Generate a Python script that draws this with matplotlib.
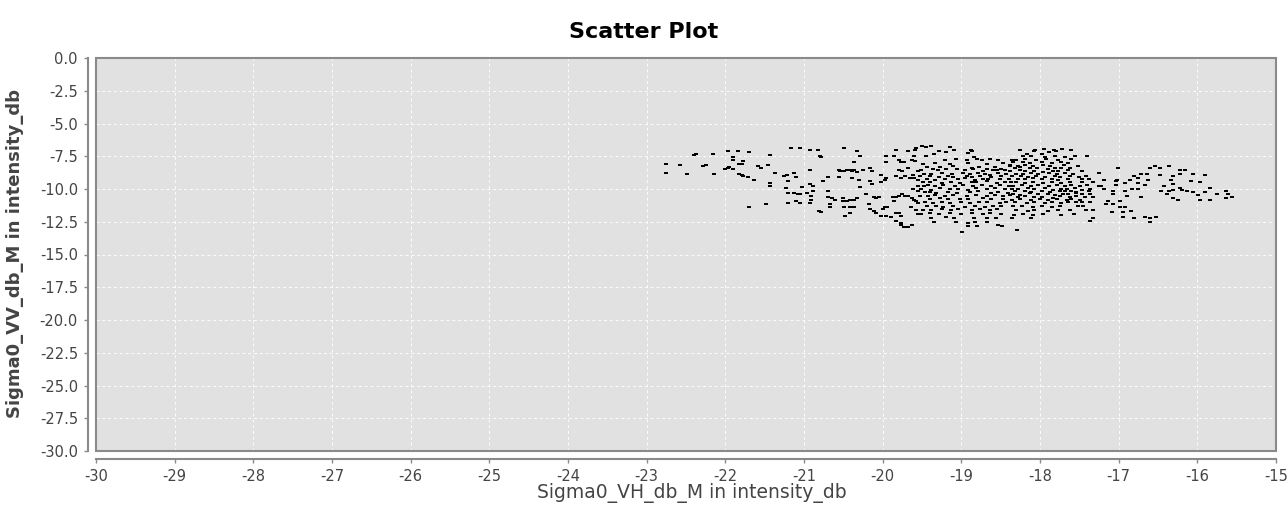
import numpy as np
import matplotlib
matplotlib.use('Agg')
import matplotlib.pyplot as plt
from matplotlib.patches import Rectangle

# Sigma0 VH (x) / VV (y) samples in dB.
# Sparse parts are (vh, vv) pairs; the dense core is stored row by row.

west_pts = [(-22.75, -8.09), (-22.75, -8.75), (-22.57, -8.19), (-22.49, -8.85),
            (-22.40, -7.40), (-22.37, -7.33), (-22.28, -8.28), (-22.25, -8.20),
            (-22.16, -7.33), (-22.14, -8.85), (-22.00, -8.45), (-21.97, -8.40),
            (-21.95, -8.33), (-21.97, -7.07), (-21.84, -7.07), (-21.90, -7.55),
            (-21.90, -7.80), (-21.90, -8.45), (-21.83, -8.10), (-21.83, -8.85)]

band21_pts = [(-21.70, -7.20), (-21.78, -7.90), (-21.79, -8.10), (-21.79, -8.90),
              (-21.77, -8.97), (-21.71, -9.08), (-21.64, -9.29), (-21.58, -8.25),
              (-21.55, -8.40), (-21.46, -8.19), (-21.43, -7.43), (-21.43, -9.52),
              (-21.43, -9.75), (-21.37, -8.75), (-21.25, -9.03), (-21.22, -8.95),
              (-21.20, -9.41), (-21.23, -9.95), (-21.17, -6.90), (-21.13, -8.75),
              (-21.10, -9.06), (-21.05, -6.90), (-21.20, -10.28), (-21.13, -10.28),
              (-21.07, -10.40), (-21.05, -10.40), (-21.10, -10.92), (-21.20, -11.07),
              (-21.05, -11.07), (-21.03, -9.85), (-20.93, -7.00), (-20.82, -7.00),
              (-20.80, -7.45), (-20.78, -7.55), (-20.93, -8.52), (-20.93, -9.62),
              (-20.88, -9.75), (-20.96, -10.28), (-20.91, -10.51), (-20.88, -10.18),
              (-20.91, -10.84), (-20.93, -11.07), (-20.76, -9.41), (-20.70, -9.08),
              (-20.70, -10.18), (-20.70, -10.61), (-20.67, -11.15), (-20.67, -11.37),
              (-20.81, -11.65), (-20.78, -11.72), (-21.70, -11.37), (-21.48, -11.17)]

band20_pts = [(-20.49, -6.86), (-20.33, -7.12), (-20.29, -7.50), (-20.36, -7.96),
              (-20.56, -8.52), (-20.54, -8.62), (-20.49, -8.62), (-20.45, -8.52),
              (-20.42, -8.52), (-20.39, -8.62), (-20.36, -8.52), (-20.33, -8.72),
              (-20.25, -8.52), (-20.16, -8.42), (-20.14, -8.62), (-20.56, -9.08),
              (-20.39, -9.18), (-20.30, -9.28), (-20.16, -9.41), (-20.14, -9.61),
              (-20.29, -9.84), (-20.02, -9.48), (-19.96, -9.18), (-19.97, -9.28),
              (-20.02, -8.95), (-19.96, -7.50), (-19.96, -7.96), (-19.85, -7.50),
              (-19.83, -6.99), (-19.68, -7.12), (-19.59, -6.99), (-19.57, -6.86),
              (-19.79, -7.75), (-19.77, -7.96), (-19.73, -7.96), (-19.63, -7.75),
              (-19.60, -7.50), (-19.59, -7.85), (-19.79, -8.52), (-19.75, -8.62),
              (-19.68, -8.42), (-19.83, -9.03), (-19.77, -9.18), (-19.72, -9.03),
              (-19.65, -9.18), (-19.62, -8.95), (-19.60, -9.18), (-19.55, -8.62),
              (-19.55, -9.28), (-19.55, -9.74), (-19.55, -10.17), (-19.61, -10.00),
              (-20.64, -10.71), (-20.60, -10.81), (-20.51, -10.71), (-20.51, -10.94),
              (-20.45, -10.94), (-20.42, -10.81), (-20.36, -10.81), (-20.33, -10.71),
              (-20.49, -11.37), (-20.42, -11.37), (-20.36, -11.37), (-20.48, -12.03),
              (-20.42, -11.83), (-20.21, -10.38), (-20.11, -10.60), (-20.08, -10.71),
              (-20.05, -10.60), (-20.18, -11.16), (-20.16, -11.50), (-20.11, -11.70),
              (-20.08, -11.83), (-20.00, -11.50), (-19.97, -11.40), (-19.94, -11.40),
              (-20.02, -12.03), (-19.96, -12.03), (-19.90, -12.16), (-19.87, -10.60),
              (-19.83, -10.60), (-19.79, -10.50), (-19.75, -10.38), (-19.72, -10.50),
              (-19.68, -10.50), (-19.85, -10.94), (-19.83, -11.83), (-19.79, -11.83),
              (-19.77, -12.03), (-19.83, -12.46), (-19.77, -12.59), (-19.77, -12.72),
              (-19.73, -12.89), (-19.68, -12.89), (-19.63, -12.72), (-19.63, -10.71),
              (-19.60, -10.81), (-19.57, -10.94), (-19.55, -11.04), (-19.64, -11.37),
              (-19.58, -11.57), (-19.55, -11.88)]

# dense core between -19.5 and -18.4 dB (VH), row by row
core_a_vh = [
    [-19.50, -19.45, -19.39, -19.14],
    [-19.09, -18.88],
    [-19.28, -19.20, -18.86],
    [-19.35, -18.92],
    [-19.45, -18.84],
    [-19.21, -19.07, -18.93, -18.80, -18.74, -18.64, -18.53],
    [-19.49, -19.33, -19.15, -18.91, -18.68, -18.47],
    [-19.44, -19.27, -19.10, -18.87, -18.77, -18.57, -18.38],
    [-19.51, -19.36, -19.30, -19.19, -19.06, -18.95, -18.85, -18.72, -18.68, -18.60, -18.55, -18.49, -18.44],
    [-19.48, -19.38, -19.25, -19.12, -18.98, -18.89, -18.79, -18.70, -18.64, -18.53, -18.43],
    [-19.52, -19.40, -19.29, -19.17, -19.10, -18.93, -18.86, -18.76, -18.62, -18.49],
    [-19.44, -19.34, -19.21, -19.04, -18.95, -18.83, -18.72, -18.66, -18.51, -18.40],
    [-19.49, -19.40, -19.25, -19.13, -19.02, -18.87, -18.81, -18.68, -18.55, -18.45],
    [-19.48, -19.42, -19.34, -19.23, -19.08, -18.98, -18.85, -18.74, -18.62, -18.51, -18.40],
    [-19.51, -19.38, -19.27, -19.15, -19.04, -18.91, -18.81, -18.68, -18.57, -18.45],
    [-19.46, -19.40, -19.32, -19.17, -19.06, -18.89, -18.79, -18.62, -18.53, -18.41],
    [-19.53, -19.42, -19.34, -19.21, -19.10, -18.93, -18.81, -18.68, -18.57, -18.47, -18.38],
    [-19.40, -19.27, -19.17, -19.02, -18.91, -18.72, -18.62, -18.47],
    [-19.46, -19.36, -19.25, -19.15, -19.00, -18.89, -18.77, -18.68, -18.51, -18.43],
    [-19.44, -19.32, -19.23, -19.10, -18.95, -18.83, -18.70, -18.60, -18.49],
    [-19.49, -19.38, -19.25, -19.13, -19.04, -18.87, -18.76, -18.64, -18.55],
    [-19.51, -19.40, -19.29, -19.15, -19.00, -18.87, -18.72, -18.64, -18.49],
    [-19.39, -19.20, -19.09, -18.84, -18.67, -18.56],
    [-19.35, -19.07, -18.92, -18.82, -18.67],
    [-18.92, -18.80, -18.54, -18.48],
    [-18.99],
]
core_a_vv = [
    [-6.74, -6.79, -6.72, -6.77],
    [-6.99, -7.03],
    [-7.12, -7.16, -7.10],
    [-7.30, -7.26],
    [-7.50, -7.55],
    [-7.75, -7.70, -7.79, -7.73, -7.80, -7.72, -7.77],
    [-8.06, -8.01, -8.10, -8.04, -8.09, -8.02],
    [-8.31, -8.35, -8.28, -8.36, -8.30, -8.33, -8.27],
    [-8.52, -8.47, -8.58, -8.50, -8.45, -8.56, -8.49, -8.60, -8.46, -8.53, -8.57, -8.48, -8.55],
    [-8.82, -8.86, -8.78, -8.88, -8.80, -8.85, -8.77, -8.84, -8.90, -8.79, -8.83],
    [-9.03, -8.98, -9.07, -9.01, -9.09, -9.00, -9.05, -8.97, -9.06, -9.02],
    [-9.23, -9.28, -9.20, -9.26, -9.19, -9.30, -9.22, -9.27, -9.21, -9.25],
    [-9.48, -9.43, -9.52, -9.46, -9.54, -9.45, -9.50, -9.42, -9.51, -9.47],
    [-9.74, -9.69, -9.78, -9.71, -9.77, -9.70, -9.80, -9.73, -9.76, -9.68, -9.75],
    [-9.99, -10.04, -9.95, -10.02, -9.97, -10.05, -9.94, -10.01, -9.96, -10.03],
    [-10.25, -10.20, -10.29, -10.22, -10.30, -10.24, -10.19, -10.27, -10.21, -10.28],
    [-10.50, -10.55, -10.46, -10.53, -10.48, -10.56, -10.45, -10.52, -10.47, -10.54, -10.49],
    [-10.76, -10.71, -10.80, -10.73, -10.79, -10.70, -10.77, -10.74],
    [-11.01, -11.06, -10.97, -11.04, -10.99, -11.07, -10.98, -11.03, -11.08, -11.00],
    [-11.32, -11.27, -11.36, -11.29, -11.35, -11.30, -11.37, -11.28, -11.33],
    [-11.57, -11.62, -11.53, -11.60, -11.55, -11.63, -11.54, -11.59, -11.56],
    [-11.88, -11.83, -11.92, -11.85, -11.91, -11.84, -11.89, -11.86, -11.93],
    [-12.21, -12.17, -12.25, -12.19, -12.24, -12.18],
    [-12.54, -12.50, -12.57, -12.52, -12.55],
    [-12.79, -12.83, -12.76, -12.81],
    [-13.30],
]

# dense core between -18.4 and -17.2 dB (VH), row by row
core_b_vh = [
    [-18.25, -18.06, -17.95, -17.82, -17.72, -17.61],
    [-18.08, -17.89, -17.80],
    [-18.16, -17.97],
    [-18.21, -18.11, -17.94, -17.81, -17.68, -17.56, -17.40],
    [-18.36, -18.30, -18.19, -18.05, -17.92, -17.77, -17.60],
    [-18.34, -18.21, -18.13, -17.98, -17.85, -17.73, -17.64],
    [-18.38, -18.28, -18.19, -18.09, -17.96, -17.87, -17.70, -17.52],
    [-18.32, -18.26, -18.13, -18.04, -17.90, -17.81, -17.73, -17.62],
    [-18.38, -18.26, -18.19, -18.07, -17.96, -17.83, -17.77, -17.64, -17.46],
    [-18.30, -18.21, -18.11, -18.02, -17.88, -17.79, -17.68, -17.58, -17.25],
    [-18.36, -18.24, -18.15, -18.05, -17.94, -17.81, -17.75, -17.62, -17.51, -17.42],
    [-18.28, -18.19, -18.09, -17.98, -17.85, -17.77, -17.64, -17.47, -17.38],
    [-18.37, -18.30, -18.19, -18.09, -17.96, -17.85, -17.73, -17.62, -17.47, -17.33],
    [-18.34, -18.23, -18.11, -18.02, -17.88, -17.79, -17.68, -17.60, -17.49, -17.40, -17.25],
    [-18.36, -18.28, -18.15, -18.07, -17.94, -17.83, -17.73, -17.66, -17.56, -17.47, -17.36],
    [-18.32, -18.19, -18.11, -17.98, -17.87, -17.75, -17.68, -17.60, -17.54, -17.38],
    [-18.34, -18.26, -18.13, -18.02, -17.90, -17.81, -17.71, -17.64, -17.54, -17.47, -17.36],
    [-18.28, -18.19, -18.07, -17.98, -17.83, -17.75, -17.62, -17.54, -17.43, -17.33],
    [-18.36, -18.26, -18.11, -18.00, -17.90, -17.79, -17.66, -17.60, -17.49],
    [-18.32, -18.17, -18.07, -17.94, -17.85, -17.73, -17.64, -17.54, -17.47, -17.37],
    [-18.34, -18.23, -18.09, -17.98, -17.85, -17.75, -17.52, -17.45],
    [-18.30, -18.15, -18.07, -17.90, -17.77, -17.62, -17.41, -17.33],
    [-18.33, -18.21, -18.09, -17.96, -17.73, -17.57],
    [-18.35, -18.12, -17.33],
    [-17.36],
    [-18.29],
]
core_b_vv = [
    [-6.99, -7.03, -6.96, -7.02, -6.97, -7.04],
    [-7.12, -7.16, -7.09],
    [-7.30, -7.34],
    [-7.50, -7.45, -7.54, -7.47, -7.53, -7.48, -7.51],
    [-7.75, -7.80, -7.71, -7.78, -7.73, -7.79, -7.72],
    [-7.96, -7.92, -8.00, -7.94, -8.01, -7.93, -7.98],
    [-8.19, -8.24, -8.15, -8.22, -8.17, -8.25, -8.16, -8.21],
    [-8.39, -8.35, -8.43, -8.37, -8.44, -8.36, -8.41, -8.38],
    [-8.62, -8.58, -8.66, -8.60, -8.67, -8.59, -8.64, -8.57, -8.63],
    [-8.82, -8.86, -8.79, -8.87, -8.80, -8.85, -8.78, -8.84, -8.81],
    [-9.03, -8.99, -9.07, -9.00, -9.06, -8.98, -9.05, -9.01, -9.08, -9.02],
    [-9.23, -9.27, -9.19, -9.26, -9.20, -9.28, -9.21, -9.25, -9.22],
    [-9.48, -9.44, -9.52, -9.45, -9.53, -9.46, -9.51, -9.43, -9.50, -9.47],
    [-9.74, -9.70, -9.78, -9.72, -9.79, -9.71, -9.76, -9.69, -9.77, -9.73, -9.75],
    [-9.99, -10.03, -9.95, -10.02, -9.96, -10.04, -9.97, -10.01, -9.94, -10.05, -9.98],
    [-10.17, -10.13, -10.21, -10.15, -10.22, -10.14, -10.19, -10.12, -10.20, -10.16],
    [-10.38, -10.42, -10.34, -10.41, -10.35, -10.43, -10.36, -10.40, -10.33, -10.39, -10.37],
    [-10.60, -10.56, -10.64, -10.58, -10.65, -10.57, -10.62, -10.55, -10.63, -10.59],
    [-10.81, -10.77, -10.85, -10.79, -10.86, -10.78, -10.83, -10.76, -10.84],
    [-11.01, -11.05, -10.97, -11.04, -10.98, -11.06, -10.99, -11.03, -10.96, -11.02],
    [-11.32, -11.28, -11.36, -11.29, -11.35, -11.27, -11.33, -11.30],
    [-11.62, -11.66, -11.58, -11.65, -11.59, -11.64, -11.60, -11.63],
    [-11.95, -11.91, -11.99, -11.93, -11.98, -11.92],
    [-12.21, -12.25, -12.18],
    [-12.46],
    [-13.15],
]

east_pts = [(-17.01, -8.39), (-17.19, -9.28), (-17.19, -10.00), (-17.22, -9.74),
            (-17.04, -9.41), (-17.02, -9.33), (-17.04, -9.72), (-17.07, -10.12),
            (-17.07, -10.38), (-17.13, -10.94), (-17.16, -11.14), (-17.07, -11.14),
            (-16.98, -10.94), (-16.98, -11.37), (-16.92, -11.37), (-17.09, -11.77),
            (-16.94, -11.77), (-16.94, -12.13), (-16.92, -9.54), (-16.92, -10.12),
            (-16.89, -10.50), (-16.86, -9.28), (-16.81, -8.98), (-16.75, -9.18),
            (-16.72, -8.82), (-16.64, -8.82), (-16.83, -9.97), (-16.76, -9.54),
            (-16.75, -9.97), (-16.66, -9.71), (-16.63, -9.28), (-16.72, -10.60),
            (-16.84, -11.70), (-16.81, -12.21), (-16.66, -12.13), (-16.60, -12.21),
            (-16.60, -12.54), (-16.52, -12.13), (-16.60, -8.39), (-16.54, -8.26),
            (-16.48, -8.39), (-16.48, -8.92), (-16.36, -8.26), (-16.31, -8.98),
            (-16.31, -9.59), (-16.31, -10.04), (-16.34, -9.28), (-16.42, -9.79),
            (-16.46, -10.12), (-16.39, -10.38), (-16.36, -10.12), (-16.31, -10.68),
            (-16.25, -10.81), (-16.22, -8.52), (-16.16, -8.52), (-16.22, -8.85),
            (-16.22, -9.92), (-16.19, -10.04), (-16.13, -10.12), (-16.08, -9.36),
            (-16.05, -8.85), (-15.90, -8.95), (-16.08, -9.40), (-15.97, -9.48),
            (-15.84, -9.94), (-16.05, -10.25), (-15.99, -10.48), (-15.97, -10.81),
            (-15.90, -10.25), (-15.84, -10.81), (-15.75, -10.38), (-15.64, -10.12),
            (-15.61, -10.38), (-15.56, -10.60), (-15.64, -10.71)]

x_ticks = np.arange(-30, -14, 1)
y_ticks = np.arange(-30.0, 0.1, 2.5)

vh = []
vv = []
for pts in (west_pts, band21_pts, band20_pts, east_pts):
    arr = np.array(pts)
    vh.extend(arr[:, 0])
    vv.extend(arr[:, 1])
for rows_vh, rows_vv in ((core_a_vh, core_a_vv), (core_b_vh, core_b_vv)):
    for row_x, row_y in zip(rows_vh, rows_vv):
        vh.extend(row_x)
        vv.extend(row_y)

W, H = 1288, 508
fig = plt.figure(figsize=(W / 100, H / 100), dpi=100)
ax = fig.add_axes([96 / W, 1 - 451 / H, 1180 / W, 393 / H])

frame_col = '#8a8a8a'
text_col = '#444444'
ax.set_facecolor('#e1e1e1')

# small dash markers like the original renderer
dash = [(-1.0, -0.45), (1.0, -0.45), (1.0, 0.45), (-1.0, 0.45), (-1.0, -0.45)]
ax.plot(vh, vv, linestyle='none', marker=dash, markersize=2.5,
        markerfacecolor='black', markeredgewidth=0, color='black', zorder=3)

ax.set_xlim(-30, -15)
ax.set_ylim(-30, 0)
ax.set_xticks(x_ticks)
ax.set_xticklabels([str(t) for t in x_ticks])
ax.set_yticks(y_ticks)
ax.set_yticklabels(['%.1f' % t for t in y_ticks])

ax.grid(True, color='white', linestyle=(0, (3, 3)), linewidth=0.7, alpha=0.9)
ax.set_axisbelow(True)

for side in ['top', 'right']:
    ax.spines[side].set_visible(False)
ax.spines['left'].set_position(('outward', 6))
ax.spines['bottom'].set_position(('outward', 6))
ax.spines['left'].set_color(frame_col)
ax.spines['bottom'].set_color(frame_col)
ax.spines['left'].set_linewidth(1.5)
ax.spines['bottom'].set_linewidth(1.5)
ax.add_patch(Rectangle((0, 0), 1, 1, transform=ax.transAxes, fill=False,
                       edgecolor=frame_col, linewidth=1.5, zorder=4, clip_on=False))

ax.tick_params(axis='both', direction='out', length=3, width=1,
               color=frame_col, labelcolor=text_col, labelsize=10.5, pad=4)

fig.text(692 / W, 1 - 493 / H, 'Sigma0_VH_db_M in intensity_db',
         ha='center', va='center', fontsize=13.5, color=text_col)
fig.text(15 / W, 1 - 254 / H, 'Sigma0_VV_db_M in intensity_db',
         ha='center', va='center', rotation=90, fontsize=13,
         fontweight='bold', color=text_col)
fig.text(0.5, 1 - 32 / H, 'Scatter Plot', ha='center', va='center',
         fontsize=16, fontweight='bold', color='black')

fig.savefig('out.png', dpi=100)
